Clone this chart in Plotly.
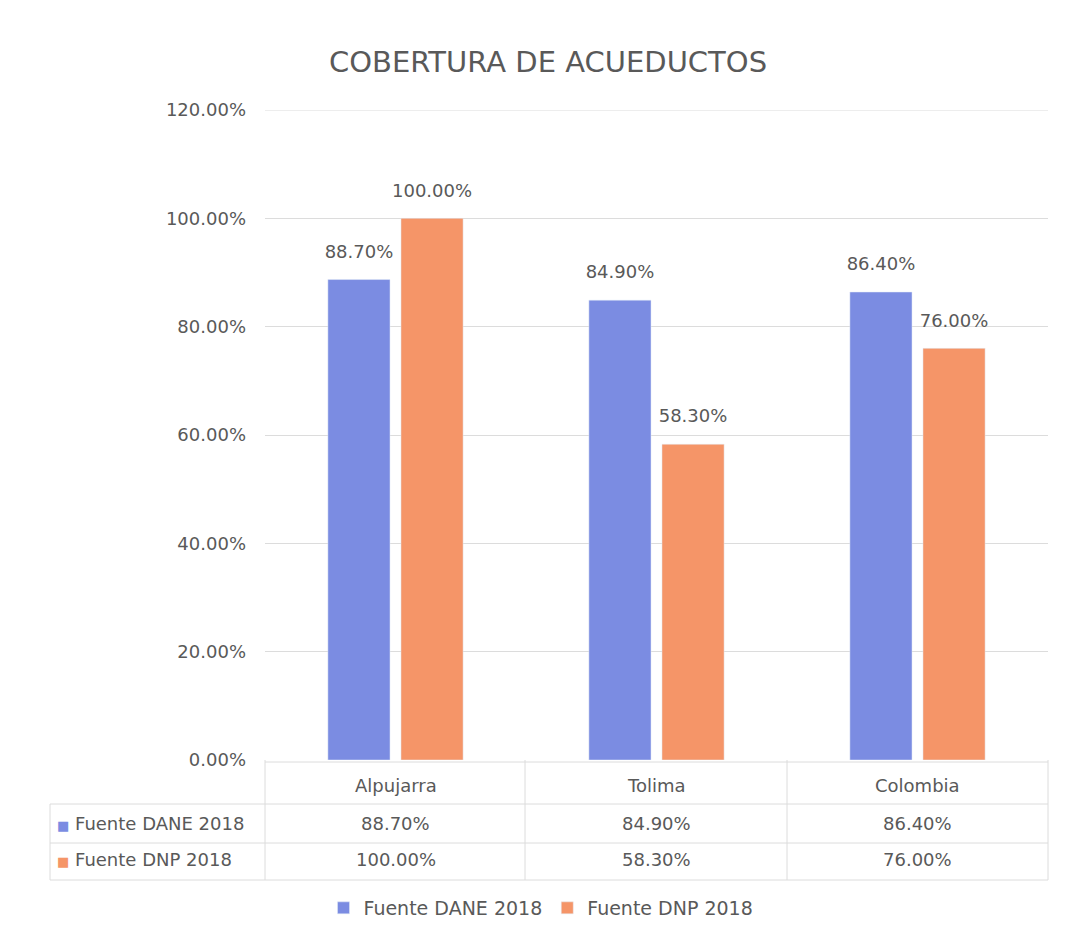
import plotly.graph_objects as go

categories = ["Alpujarra", "Tolima", "Colombia"]
dane_2018 = [0.887, 0.849, 0.864]
dnp_2018 = [1.00, 0.583, 0.76]
series_names = ["Fuente DANE 2018", "Fuente DNP 2018"]
y_ticks = [0, 0.2, 0.4, 0.6, 0.8, 1.0, 1.2]

BLUE = "#7B8CE2"
ORANGE = "#F59568"
GRAY = "#595959"
LINE = "#DCDCDC"
FONT = "DejaVu Sans"
FS = 18

OFF = 8  # page body margin
W, H = 1061, 936
ML, MR, MT, MB = 257, 21, 102, 184
PW, PH = W - ML - MR, H - MT - MB

def py(ref_y):
    return (H - MB - (ref_y - OFF)) / PH

def px_x(ref_x):
    return ((ref_x - OFF) - ML) / PW

fig = go.Figure()
for i, (name, vals, col) in enumerate([(series_names[0], dane_2018, BLUE), (series_names[1], dnp_2018, ORANGE)]):
    fig.add_trace(go.Bar(
        x=categories, y=vals, name=name, marker_color=col, offsetgroup=str(i),
        textposition="none",
    ))
for i, vals in enumerate([dane_2018, dnp_2018]):
    fig.add_trace(go.Scatter(
        x=categories, y=vals, mode="markers+text", offsetgroup=str(i),
        marker=dict(size=26, opacity=0), text=[f"{v:.2%}" for v in vals],
        textposition="top center", textfont=dict(size=FS, color=GRAY, family=FONT),
        showlegend=False, cliponaxis=False, hoverinfo="skip",
    ))

annotations = []
annotations.append(dict(text="COBERTURA DE ACUEDUCTOS", xref="paper", yref="paper",
                        x=px_x(548), y=py(62), showarrow=False,
                        font=dict(size=29, color=GRAY, family=FONT), xanchor="center", yanchor="middle"))
rows = [(None, None, categories), (series_names[0], BLUE, [f"{v:.2%}" for v in dane_2018]),
        (series_names[1], ORANGE, [f"{v:.2%}" for v in dnp_2018])]
row_y = [785, 823, 860]
for (label, col, vals), yy in zip(rows, row_y):
    for c, v in zip(categories, vals):
        annotations.append(dict(text=v, xref="x", yref="paper", x=c, y=py(yy), showarrow=False,
                                font=dict(size=FS, color=GRAY, family=FONT), yanchor="middle"))
    if label:
        annotations.append(dict(text=f"<span style='color:{col};font-size:13px'>■</span> {label}",
                                xref="paper", yref="paper",
                                x=px_x(55), y=py(yy), xanchor="left", yanchor="middle", showarrow=False,
                                font=dict(size=FS, color=GRAY, family=FONT)))

shapes = [dict(type="line", xref="paper", yref="y", x0=0, x1=1, y0=y_ticks[-1], y1=y_ticks[-1],
               line=dict(color=LINE, width=1), layer="below")]
for yy, x0 in [(762, 265), (804, 50), (843, 50), (880, 50)]:
    shapes.append(dict(type="line", xref="paper", yref="paper", x0=px_x(x0), x1=1, y0=py(yy), y1=py(yy),
                       line=dict(color=LINE, width=1)))
for xx, y0 in [(50, 804), (265, 760), (525, 760), (787, 760), (1048, 760)]:
    shapes.append(dict(type="line", xref="paper", yref="paper", x0=px_x(xx), x1=px_x(xx), y0=py(y0), y1=py(880),
                       line=dict(color=LINE, width=1)))

fig.update_layout(
    width=W, height=H, margin=dict(l=ML, r=MR, t=MT, b=MB),
    paper_bgcolor="white", plot_bgcolor="white",
    barmode="group", bargap=0.44, bargroupgap=0.15,
    scattermode="group", scattergap=0.44,
    font=dict(family=FONT, color=GRAY, size=FS),
    xaxis=dict(showticklabels=False, showline=False, showgrid=False, zeroline=False),
    yaxis=dict(range=[0, 1.2], tickvals=y_ticks, tickformat=".2%", showgrid=True, gridcolor=LINE,
               zeroline=False, showline=False, ticks="", ticklabelstandoff=18,
               tickfont=dict(size=FS, color=GRAY, family=FONT)),
    legend=dict(orientation="h", x=px_x(541), xanchor="center", y=py(908), yanchor="middle",
                font=dict(size=19, color=GRAY, family=FONT), itemwidth=30),
    annotations=annotations, shapes=shapes,
)
fig.write_html("out.html")
